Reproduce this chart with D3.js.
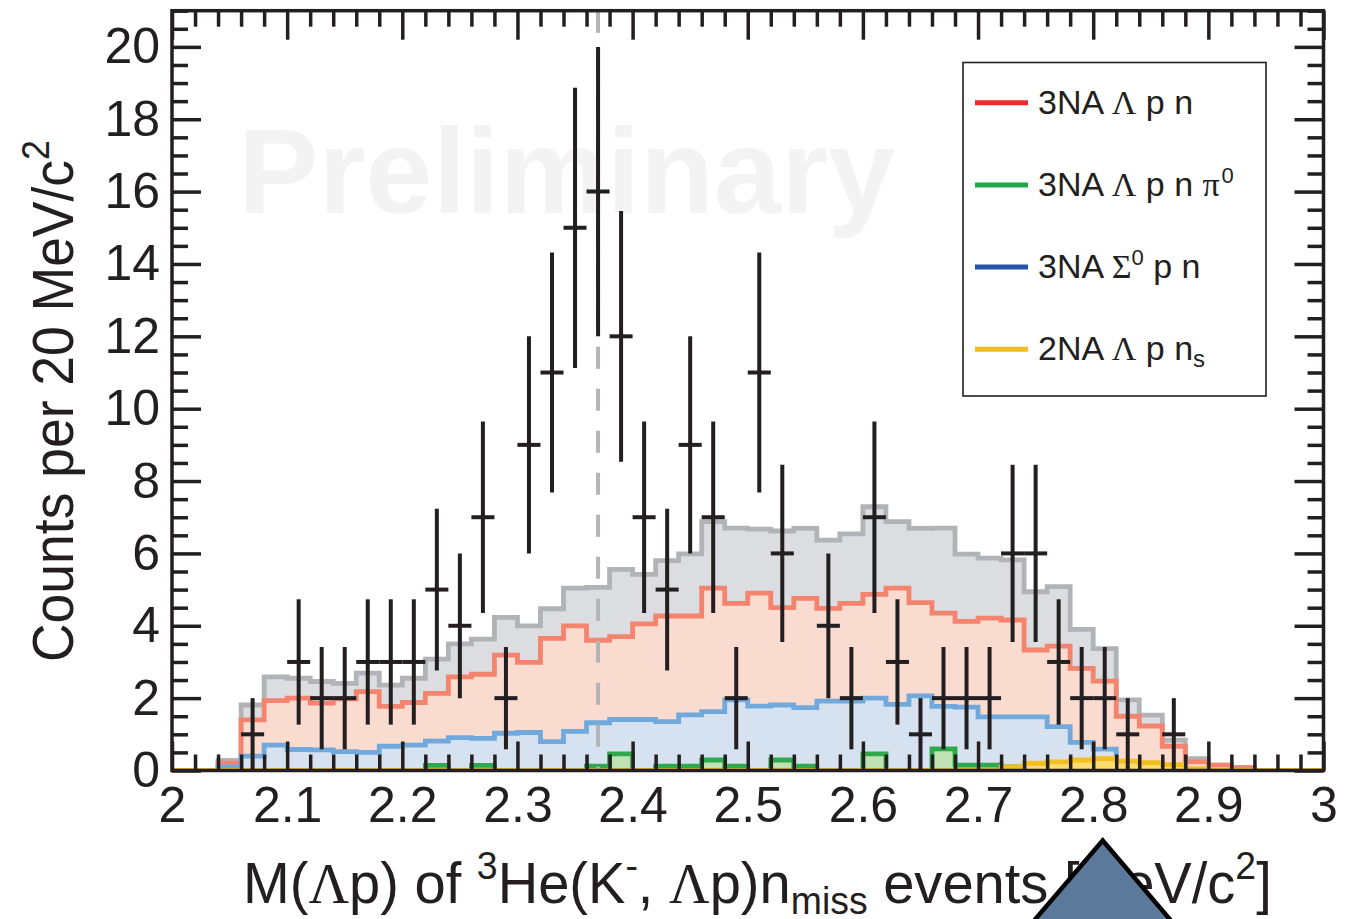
<!DOCTYPE html>
<html>
<head>
<meta charset="utf-8">
<script src="https://cdn.jsdelivr.net/npm/d3@7"></script>
<style>
  html, body { margin: 0; padding: 0; background: #fff; }
  svg { display: block; }
  text { white-space: pre; }
</style>
</head>
<body>
<svg id="chart" width="1348" height="919"></svg>
<script>
// ---- data -------------------------------------------------------------
// lower edges of the 20 MeV/c^2 mass bins (GeV/c^2)
const binEdges = [2.00, 2.02, 2.04, 2.06, 2.08, 2.10, 2.12, 2.14, 2.16, 2.18,
                  2.20, 2.22, 2.24, 2.26, 2.28, 2.30, 2.32, 2.34, 2.36, 2.38,
                  2.40, 2.42, 2.44, 2.46, 2.48, 2.50, 2.52, 2.54, 2.56, 2.58,
                  2.60, 2.62, 2.64, 2.66, 2.68, 2.70, 2.72, 2.74, 2.76, 2.78,
                  2.80, 2.82, 2.84, 2.86, 2.88, 2.90, 2.92, 2.94, 2.96, 2.98];
const binWidth = 0.02;

// total simulated spectrum
const totalSim = [0, 0, 0.28, 1.81, 2.59, 2.55, 2.46, 2.41, 2.69, 2.36,
                  2.55, 3.08, 3.50, 3.63, 4.23, 4.00, 4.47, 5.04, 5.06, 5.56,
                  5.42, 5.80, 5.99, 6.88, 6.70, 6.67, 6.62, 6.69, 6.37, 6.54,
                  7.29, 6.88, 6.69, 6.70, 5.98, 5.87, 5.82, 4.94, 5.08, 3.90,
                  3.37, 1.95, 1.53, 0.84, 0.33, 0.15, 0.08, 0, 0, 0];
// 3NA Lambda p n
const lambdaPN = [0, 0, 0.20, 1.40, 1.93, 2.00, 1.86, 1.98, 2.18, 1.77,
                  1.88, 2.13, 2.59, 2.66, 3.19, 2.99, 3.65, 4.00, 3.60, 3.70,
                  4.05, 4.27, 4.27, 5.04, 4.62, 4.90, 4.50, 4.76, 4.48, 4.62,
                  4.87, 5.04, 4.64, 4.35, 4.12, 4.21, 4.16, 3.33, 3.44, 2.82,
                  2.47, 1.50, 1.23, 0.67, 0.24, 0.15, 0.08, 0, 0, 0];
// 3NA Sigma0 p n
const sigmaPN = [0, 0, 0.10, 0.40, 0.70, 0.58, 0.57, 0.52, 0.50, 0.67,
                 0.70, 0.81, 0.91, 0.89, 1.03, 1.05, 0.80, 1.08, 1.32, 1.41,
                 1.41, 1.35, 1.54, 1.63, 1.95, 1.78, 1.81, 1.74, 1.92, 1.92,
                 2.00, 1.83, 2.06, 1.77, 1.75, 1.48, 1.48, 1.48, 1.21, 0.78,
                 0.59, 0.15, 0.10, 0, 0, 0, 0, 0, 0, 0];
// 3NA Lambda p n pi0
const lambdaPNPi0 = [0, 0, 0, 0, 0, 0, 0, 0, 0, 0,
                     0, 0.14, 0, 0.14, 0, 0, 0, 0, 0.12, 0.46,
                     0, 0.12, 0.12, 0.29, 0.12, 0, 0.29, 0.12, 0, 0,
                     0.46, 0, 0, 0.60, 0.15, 0.15, 0.10, 0, 0, 0,
                     0, 0, 0, 0, 0, 0, 0, 0, 0, 0];
// 2NA Lambda p n_s
const lambdaPNs = [0, 0, 0, 0, 0, 0, 0, 0, 0, 0,
                   0, 0, 0, 0, 0, 0, 0, 0, 0, 0,
                   0, 0, 0, 0, 0, 0, 0, 0, 0, 0,
                   0, 0, 0, 0, 0, 0, 0.10, 0.20, 0.24, 0.29,
                   0.33, 0.26, 0.22, 0.16, 0.05, 0, 0, 0, 0, 0];

// measured events (bin centres, counts)
const pointMass = [2.07, 2.11, 2.13, 2.15, 2.17, 2.19, 2.21, 2.23, 2.25, 2.27,
                   2.29, 2.31, 2.33, 2.35, 2.37, 2.39, 2.41, 2.43, 2.45, 2.47,
                   2.49, 2.51, 2.53, 2.57, 2.59, 2.61, 2.63, 2.65, 2.67, 2.69,
                   2.71, 2.73, 2.75, 2.77, 2.79, 2.81, 2.83, 2.87];
const pointCounts = [1, 3, 2, 2, 3, 3, 3, 5, 4, 7,
                     2, 9, 11, 15, 16, 12, 7, 5, 9, 7,
                     2, 11, 6, 4, 2, 7, 3, 1, 2, 2,
                     2, 6, 6, 3, 2, 2, 1, 1];

const thresholdMass = 2.37;

const xTickValues = [2, 2.1, 2.2, 2.3, 2.4, 2.5, 2.6, 2.7, 2.8, 2.9, 3];
const xTickLabels = ["2", "2.1", "2.2", "2.3", "2.4", "2.5", "2.6", "2.7", "2.8", "2.9", "3"];
const yTickValues = [0, 2, 4, 6, 8, 10, 12, 14, 16, 18, 20];
const yTickLabels = ["0", "2", "4", "6", "8", "10", "12", "14", "16", "18", "20"];

const legendItems = [
  { parts: [{ t: "3NA " }, { t: "Λ", serif: true }, { t: " p n" }], color: "#ec2a2c" },
  { parts: [{ t: "3NA " }, { t: "Λ", serif: true }, { t: " p n " }, { t: "π", serif: true }, { t: " " , size: 6}, { t: "0", size: 22, shift: -13 }], color: "#20a84a" },
  { parts: [{ t: "3NA " }, { t: "Σ", serif: true }, { t: "0", size: 22, shift: -13 }, { t: " p n" }], color: "#2553a5" },
  { parts: [{ t: "2NA " }, { t: "Λ", serif: true }, { t: " p n" }, { t: "s", size: 24, shift: 7 }], color: "#f1bd1e" }
];

// ---- layout -----------------------------------------------------------
const W = 1348, H = 919;
const plot = { left: 172, right: 1323.5, bottom: 770.5, top: 10.7 };
const ink = "#231f20";
const sans = "'Liberation Sans', Arial, Helvetica, sans-serif";
const serif = "'Liberation Serif', 'DejaVu Serif', serif";

const svg = d3.select("#chart");
svg.append("rect").attr("width", W).attr("height", H).attr("fill", "#fff");

const x = d3.scaleLinear().domain([2, 3]).range([plot.left, plot.right]);
const y = d3.scaleLinear().domain([0, 21]).range([plot.bottom, plot.top]);

svg.append("clipPath").attr("id", "plotClip")
  .append("rect")
  .attr("x", plot.left).attr("y", plot.top)
  .attr("width", plot.right - plot.left).attr("height", plot.bottom - plot.top);

// rich text helper: parts with optional serif font, size and baseline shift
function richText(sel, parts, baseSize) {
  let shift = 0;
  parts.forEach(p => {
    const target = p.shift || 0;
    const ts = sel.append("tspan")
      .attr("dy", target - shift)
      .style("font-size", (p.size || baseSize) + "px")
      .text(p.t);
    if (p.serif) ts.style("font-family", serif);
    shift = target;
  });
}

// ---- watermark --------------------------------------------------------
const wm = svg.append("text")
  .attr("x", 0).attr("y", 0)
  .attr("font-family", sans).attr("font-weight", "bold")
  .attr("font-size", 121).attr("fill", "#f3f3f3")
  .text("Preliminary");
{
  const w = wm.node().getComputedTextLength();
  wm.attr("transform", `translate(238,213) scale(${657 / w},1)`);
}

// ---- histograms -------------------------------------------------------
const plotG = svg.append("g").attr("clip-path", "url(#plotClip)");

function stepPoints(vals) {
  const pts = binEdges.map((e, i) => [e, vals[i]]);
  pts.push([binEdges[binEdges.length - 1] + binWidth, vals[vals.length - 1]]);
  return pts;
}
const stepArea = d3.area().curve(d3.curveStepAfter)
  .x(d => x(d[0])).y0(y(0)).y1(d => y(d[1]));
const stepLine = d3.line().curve(d3.curveStepAfter)
  .x(d => x(d[0])).y(d => y(d[1]));

const layers = [
  { vals: totalSim,    fill: "#dcdde0", stroke: "#b2b3b6" },
  { vals: lambdaPN,    fill: "#f9dbd0", stroke: "#f4846e" },
  { vals: sigmaPN,     fill: "#d6e2ef", stroke: "#72a9dc" },
  { vals: lambdaPNPi0, fill: "#c0e1b1", stroke: "#2ea94b" },
  { vals: lambdaPNs,   fill: "#fedb6f", stroke: "#f3bf1f" }
];
layers.forEach(l => {
  const pts = stepPoints(l.vals);
  plotG.append("path").attr("d", stepArea(pts)).attr("fill", l.fill);
  plotG.append("path").attr("d", stepLine(pts))
    .attr("fill", "none").attr("stroke", l.stroke).attr("stroke-width", 4.8);
});

// threshold marker
plotG.append("line")
  .attr("x1", x(thresholdMass)).attr("x2", x(thresholdMass))
  .attr("y1", plot.top).attr("y2", plot.bottom)
  .attr("stroke", "#b3b4b7").attr("stroke-width", 4)
  .attr("stroke-dasharray", "22,20");

// ---- data points with statistical errors ------------------------------
const pts = plotG.append("g");
pointMass.forEach((m, i) => {
  const n = pointCounts[i], e = Math.sqrt(n);
  pts.append("line")
    .attr("x1", x(m)).attr("x2", x(m))
    .attr("y1", y(Math.max(0, n - e))).attr("y2", y(n + e))
    .attr("stroke", ink).attr("stroke-width", 4);
  pts.append("line")
    .attr("x1", x(m - binWidth / 2)).attr("x2", x(m + binWidth / 2))
    .attr("y1", y(n)).attr("y2", y(n))
    .attr("stroke", ink).attr("stroke-width", 4);
});

// ---- axes (ticks inside on all four sides) ----------------------------
const xMinor = d3.range(2, 3.0001, 0.02).filter(v => Math.abs(v * 10 - Math.round(v * 10)) > 1e-6);
const yMinor = d3.range(0, 21.0001, 0.5).filter(v => v % 2 !== 0);

function styleAxis(g) {
  g.select(".domain").remove();
  g.selectAll(".tick line").attr("stroke", ink).attr("stroke-width", 3.5);
  g.selectAll("text").attr("font-family", sans).attr("font-size", 50).attr("fill", ink);
}

svg.append("g").attr("transform", `translate(0,${plot.bottom})`)
  .call(d3.axisBottom(x).tickValues(xTickValues)
    .tickFormat((d, i) => xTickLabels[i]).tickSize(-29).tickPadding(16))
  .call(styleAxis);
svg.append("g").attr("transform", `translate(0,${plot.bottom})`)
  .call(d3.axisBottom(x).tickValues(xMinor).tickFormat("").tickSize(-16))
  .call(styleAxis);
svg.append("g").attr("transform", `translate(0,${plot.top})`)
  .call(d3.axisTop(x).tickValues(xTickValues).tickFormat("").tickSize(-29))
  .call(styleAxis);
svg.append("g").attr("transform", `translate(0,${plot.top})`)
  .call(d3.axisTop(x).tickValues(xMinor).tickFormat("").tickSize(-16))
  .call(styleAxis);

svg.append("g").attr("transform", `translate(${plot.left},0)`)
  .call(d3.axisLeft(y).tickValues(yTickValues)
    .tickFormat((d, i) => yTickLabels[i]).tickSize(-29).tickPadding(12))
  .call(styleAxis);
svg.append("g").attr("transform", `translate(${plot.left},0)`)
  .call(d3.axisLeft(y).tickValues(yMinor).tickFormat("").tickSize(-16))
  .call(styleAxis);
svg.append("g").attr("transform", `translate(${plot.right},0)`)
  .call(d3.axisRight(y).tickValues(yTickValues).tickFormat("").tickSize(-29))
  .call(styleAxis);
svg.append("g").attr("transform", `translate(${plot.right},0)`)
  .call(d3.axisRight(y).tickValues(yMinor).tickFormat("").tickSize(-16))
  .call(styleAxis);

// frame
svg.append("rect")
  .attr("x", plot.left).attr("y", plot.top)
  .attr("width", plot.right - plot.left).attr("height", plot.bottom - plot.top)
  .attr("fill", "none").attr("stroke", ink).attr("stroke-width", 3.5);

// ---- legend -----------------------------------------------------------
const lg = svg.append("g");
lg.append("rect")
  .attr("x", 963).attr("y", 62.5).attr("width", 303).attr("height", 333.5)
  .attr("fill", "#fff").attr("stroke", ink).attr("stroke-width", 1.6);
legendItems.forEach((it, i) => {
  const cy = 102.7 + i * 82.2;
  lg.append("line")
    .attr("x1", 975).attr("x2", 1028).attr("y1", cy).attr("y2", cy)
    .attr("stroke", it.color).attr("stroke-width", 5);
  const t = lg.append("text")
    .attr("x", 1038).attr("y", cy + 11)
    .attr("font-family", sans).attr("fill", ink);
  richText(t, it.parts, 34);
});

// ---- axis titles ------------------------------------------------------
const xt = svg.append("text").attr("x", 0).attr("y", 0)
  .attr("font-family", sans).attr("fill", ink);
richText(xt, [
  { t: "M(" }, { t: "Λ", serif: true }, { t: "p) of " },
  { t: "3", size: 38, shift: -24 }, { t: "He(K" }, { t: "-", size: 38, shift: -24 },
  { t: ", " }, { t: "Λ", serif: true }, { t: "p)n" },
  { t: "miss", size: 38, shift: 11 }, { t: " events [GeV/c" },
  { t: "2", size: 38, shift: -24 }, { t: "]" }
], 57);
{
  const w = xt.node().getBBox().width;
  xt.attr("transform", `translate(243,903) scale(${1029 / w},1)`);
}

const yt = svg.append("text").attr("x", 0).attr("y", 0)
  .attr("font-family", sans).attr("fill", ink);
richText(yt, [{ t: "Counts per 20 MeV/c" }, { t: "2", size: 38, shift: -24 }], 57);
{
  const w = yt.node().getBBox().width;
  yt.attr("transform", `translate(73,662) rotate(-90) scale(${522 / w},1)`);
}

// ---- pointer overlay at the bottom edge --------------------------------
svg.append("polygon")
  .attr("points", "1102.7,840.5 1026,930 1179,930")
  .attr("fill", "#5b7a9b").attr("stroke", "#000").attr("stroke-width", 4.5)
  .attr("stroke-linejoin", "miter");
</script>
</body>
</html>
